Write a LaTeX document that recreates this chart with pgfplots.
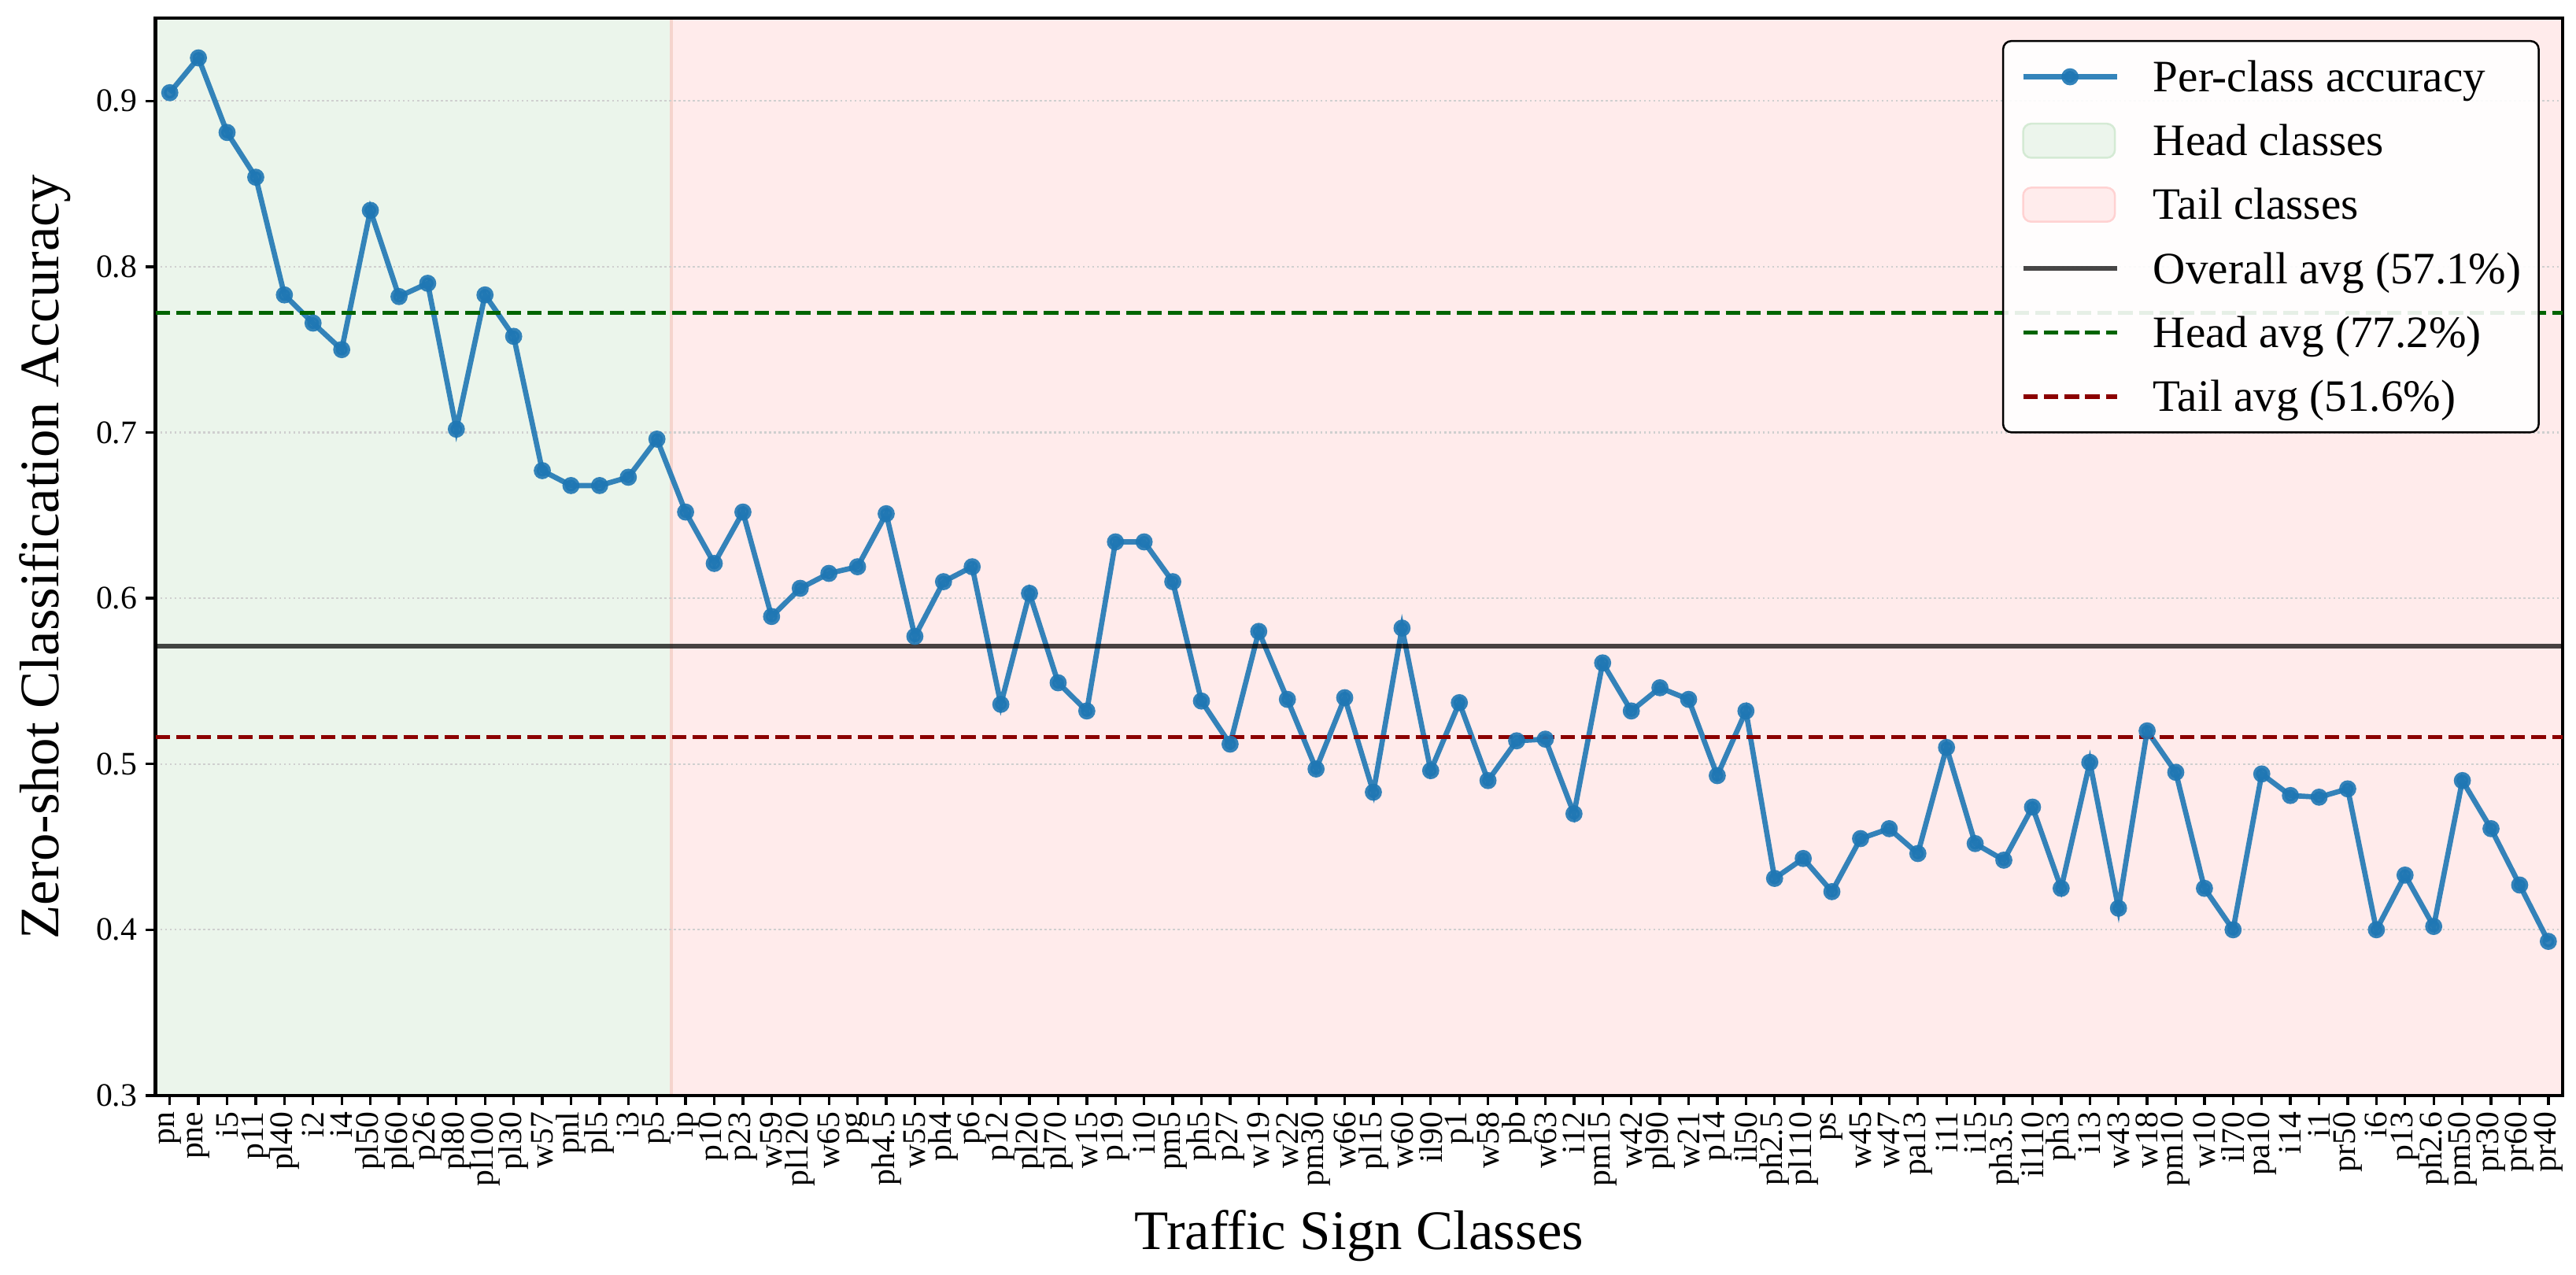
\documentclass[border=0pt]{standalone}
\usepackage{fontspec}
\setmainfont{Liberation Serif}
\usepackage{pgfplots}
\pgfplotsset{compat=1.18}
\usepackage{pgfplotstable}
\usetikzlibrary{calc}

\definecolor{tabblue}{RGB}{31,119,180}
\definecolor{headbg}{RGB}{235,245,235}
\definecolor{tailbg}{RGB}{255,235,235}
\definecolor{headedge}{RGB}{212,234,212}
\definecolor{tailedge}{RGB}{255,210,210}
\definecolor{spanedge}{RGB}{245,212,205}
\definecolor{dgreen}{RGB}{0,100,0}
\definecolor{dred}{RGB}{139,0,0}

\pgfplotstableread{
idx acc
0 0.905
1 0.926
2 0.881
3 0.854
4 0.783
5 0.766
6 0.750
7 0.834
8 0.782
9 0.790
10 0.702
11 0.783
12 0.758
13 0.677
14 0.668
15 0.668
16 0.673
17 0.696
18 0.652
19 0.621
20 0.652
21 0.589
22 0.606
23 0.615
24 0.619
25 0.651
26 0.577
27 0.610
28 0.619
29 0.536
30 0.603
31 0.549
32 0.532
33 0.634
34 0.634
35 0.610
36 0.538
37 0.512
38 0.580
39 0.539
40 0.497
41 0.540
42 0.483
43 0.582
44 0.496
45 0.537
46 0.490
47 0.514
48 0.515
49 0.470
50 0.561
51 0.532
52 0.546
53 0.539
54 0.493
55 0.532
56 0.431
57 0.443
58 0.423
59 0.455
60 0.461
61 0.446
62 0.510
63 0.452
64 0.442
65 0.474
66 0.425
67 0.501
68 0.413
69 0.520
70 0.495
71 0.425
72 0.400
73 0.494
74 0.481
75 0.480
76 0.485
77 0.400
78 0.433
79 0.402
80 0.490
81 0.461
82 0.427
83 0.393
}\acctable

\begin{document}
\begin{tikzpicture}
\begin{axis}[
  set layers,
  scale only axis,
  width=734.04pt, height=328.56pt,
  xmin=-0.5, xmax=83.5, ymin=0.3, ymax=0.95,
  xtick={0,...,83},
  xticklabels={pn,pne,i5,p11,pl40,i2,i4,pl50,pl60,p26,pl80,pl100,pl30,w57,pnl,pl5,i3,p5,ip,p10,p23,w59,pl120,w65,pg,ph4.5,w55,ph4,p6,p12,pl20,pl70,w15,p19,i10,pm5,ph5,p27,w19,w22,pm30,w66,pl15,w60,il90,p1,w58,pb,w63,i12,pm15,w42,pl90,w21,p14,il50,ph2.5,pl110,ps,w45,w47,pa13,i11,i15,ph3.5,il110,ph3,i13,w43,w18,pm10,w10,il70,pa10,i14,i1,pr50,i6,p13,ph2.6,pm50,pr30,pr60,pr40},
  ytick={0.3,0.4,0.5,0.6,0.7,0.8,0.9},
  tick pos=left,
  tick align=outside,
  major tick length=3pt,
  tick style={black, line width=0.8pt},
  axis line style={black, line width=1pt},
  ymajorgrids,
  grid style={draw=gray!38, line width=0.5pt, dash pattern=on 0.65pt off 0.8pt},
  /pgf/number format/assume math mode=true,
  yticklabel style={font=\fontsize{10}{12}\selectfont, /pgf/number format/fixed, /pgf/number format/fixed zerofill, /pgf/number format/precision=1, inner xsep=2.4pt},
  xticklabel style={font=\fontsize{10}{12}\selectfont, rotate=90, anchor=east, inner xsep=1.8pt},
  xlabel={Traffic Sign Classes},
  ylabel={Zero-shot Classification Accuracy},
  xlabel style={font=\fontsize{17}{20}\selectfont, at={(axis description cs:0.5,-0.13026)}, anchor=center},
  ylabel style={font=\fontsize{17}{20}\selectfont, at={(axis description cs:-0.0459,0.5)}, anchor=center},
  legend cell align=left,
  legend style={
    at={(axis description cs:1,1)}, anchor=north east, xshift=-7pt, yshift=-6.7pt,
    font=\fontsize{13.7}{16.4}\selectfont,
    draw=black, line width=0.6pt, rounded corners=2.5pt,
    fill=white, fill opacity=0.9, draw opacity=1, text opacity=1,
    inner xsep=5.3pt, inner ysep=4.1pt,
    row sep=5.9pt, column sep=10.3pt,
    nodes={inner sep=0pt, text height=11.3pt, text depth=2.3pt},
  },
  legend image code/.code={\draw[mark repeat=2,mark phase=2,#1] plot coordinates {(0pt,0pt) (14.3pt,0pt) (28.6pt,0pt)};},
]
% background spans
\addplot[on layer=axis background, fill=headbg, draw=none, forget plot] coordinates {(-0.5,0.3) (-0.5,0.95) (17.5,0.95) (17.5,0.3)};
\addplot[on layer=axis background, fill=tailbg, draw=none, forget plot] coordinates {(17.5,0.3) (17.5,0.95) (83.5,0.95) (83.5,0.3)};
\addplot[on layer=axis background, draw=spanedge, line width=0.8pt, forget plot] coordinates {(17.5,0.3) (17.5,0.95)};

% per-class accuracy
\addplot[color=tabblue, opacity=0.9, line width=1.6pt, mark=*, mark size=1.8pt, mark options={solid}, forget plot] table[x=idx,y=acc]{\acctable};

% averages
\addplot[black, opacity=0.72, line width=1.4pt, forget plot] coordinates {(-0.5,0.5710) (83.5,0.5710)};
\addplot[dgreen, line width=1.3pt, dash pattern=on 4.4pt off 1.9pt, forget plot] coordinates {(-0.5,0.7722) (83.5,0.7722)};
\addplot[dred, line width=1.3pt, dash pattern=on 4.4pt off 1.9pt, forget plot] coordinates {(-0.5,0.5162) (83.5,0.5162)};

% legend
\addlegendimage{color=tabblue, opacity=0.9, line width=1.6pt, mark=*, mark size=1.8pt, mark options={solid}}
\addlegendentry{Per-class accuracy}
\addlegendimage{legend image code/.code={\draw[fill=headbg, draw=headedge, line width=0.6pt] (0pt,-5.2pt) rectangle (28pt,5.2pt);}}
\addlegendentry{Head classes}
\addlegendimage{legend image code/.code={\draw[fill=tailbg, draw=tailedge, line width=0.6pt] (0pt,-5.2pt) rectangle (28pt,5.2pt);}}
\addlegendentry{Tail classes}
\addlegendimage{black, opacity=0.72, line width=1.4pt}
\addlegendentry{Overall avg (57.1\%)}
\addlegendimage{dgreen, line width=1.3pt, dash pattern=on 4.4pt off 1.9pt}
\addlegendentry{Head avg (77.2\%)}
\addlegendimage{dred, line width=1.3pt, dash pattern=on 4.4pt off 1.9pt}
\addlegendentry{Tail avg (51.6\%)}
\end{axis}
\pgfresetboundingbox
\path[use as bounding box] ($(current axis.south west)+(-47.4pt,-54.72pt)$) rectangle ($(current axis.north east)+(4.08pt,5.52pt)$);
\end{tikzpicture}
\end{document}
